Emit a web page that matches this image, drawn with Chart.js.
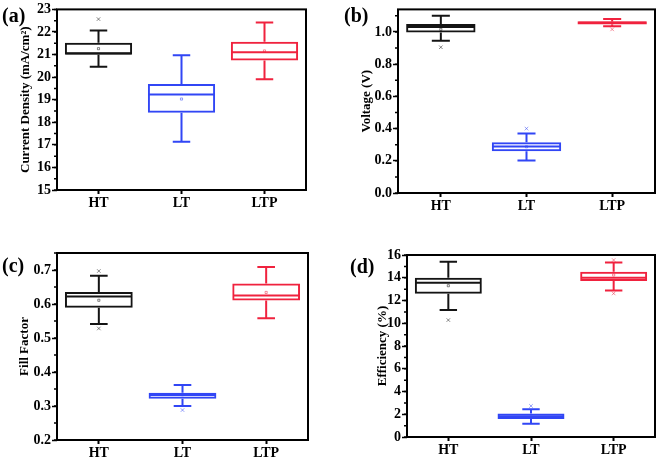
<!DOCTYPE html>
<html>
<head>
<meta charset="utf-8">
<script src="https://cdn.jsdelivr.net/npm/chart.js@4.4.0/dist/chart.umd.min.js"></script>
<style>
  body { margin: 0; background: #fff; width: 661px; height: 459px; position: relative; overflow: hidden; }
  .panel { position: absolute; }
  .tag { position: absolute; font: bold 20px 'Times New Roman', 'Liberation Serif', serif; color: #000; }
</style>
</head>
<body>
<div class="panel" style="left:0;top:0;width:330px;height:230px"><canvas id="chartA"></canvas></div>
<div class="panel" style="left:330px;top:0;width:331px;height:230px"><canvas id="chartB"></canvas></div>
<div class="panel" style="left:0;top:230px;width:330px;height:229px"><canvas id="chartC"></canvas></div>
<div class="panel" style="left:330px;top:230px;width:331px;height:229px"><canvas id="chartD"></canvas></div>
<div class="tag" style="left:2px;top:4px">(a)</div>
<div class="tag" style="left:344px;top:4px">(b)</div>
<div class="tag" style="left:2px;top:254px">(c)</div>
<div class="tag" style="left:350px;top:255px">(d)</div>
<script>
const categories = ["HT", "LT", "LTP"];

// (a) current density, mA/cm2
const jscLow = [20.46, 17.14, 19.91];
const jscQ1 = [20.99, 18.42, 20.74];
const jscMed = [21.06, 19.23, 21.1];
const jscQ3 = [21.52, 19.7, 21.57];
const jscHigh = [22.06, 20.97, 22.42];
const jscMean = [21.26, 19.03, 21.16];
const jscOutHigh = [22.57, null, null];
const jscOutLow = [null, null, null];

// (b) voltage, V
const vocLow = [0.945, 0.202, 1.036];
const vocQ1 = [0.996, 0.259, 1.046];
const vocMed = [1.03, 0.289, 1.057];
const vocQ3 = [1.05, 0.315, 1.067];
const vocHigh = [1.101, 0.37, 1.081];
const vocMean = [1.016, 0.287, 1.056];
const vocOutHigh = [null, 0.4, null];
const vocOutLow = [0.905, null, 1.016];

// (c) fill factor
const ffLow = [0.541, 0.3, 0.558];
const ffQ1 = [0.589, 0.321, 0.61];
const ffMed = [0.622, 0.332, 0.625];
const ffQ3 = [0.635, 0.339, 0.66];
const ffHigh = [0.683, 0.362, 0.709];
const ffMean = [0.611, 0.333, 0.634];
const ffOutHigh = [0.697, null, null];
const ffOutLow = [0.528, 0.288, null];

// (d) efficiency, %
const effLow = [11.16, 1.17, 12.89];
const effQ1 = [12.59, 1.59, 13.71];
const effMed = [13.56, 1.82, 14.0];
const effQ3 = [14.0, 2.06, 14.53];
const effHigh = [15.41, 2.44, 15.35];
const effMean = [13.3, 1.76, 14.24];
const effOutHigh = [null, 2.73, 15.56];
const effOutLow = [10.28, null, 12.62];

const serif = "'Times New Roman', 'Liberation Serif', serif";
const boxColors = ["#141414", "#3146f5", "#f0223e"];
const markColors = ["rgba(20,20,20,0.5)", "rgba(49,70,245,0.5)", "rgba(240,34,62,0.5)"];

// whiskers, medians, frame and minor ticks
const boxPlot = {
  id: "boxPlot",
  afterDatasetsDraw(chart, args, opts) {
    const { ctx, chartArea: a, scales: { y } } = chart;
    const s = opts.stats;
    const bars = chart.getDatasetMeta(0).data;
    ctx.save();
    ctx.lineWidth = 2;
    bars.forEach((bar, i) => {
      const cx = bar.x;
      const half = bar.width / 2;
      const cap = bar.width * 0.13;
      const yl = y.getPixelForValue(s.low[i]);
      const yh = y.getPixelForValue(s.high[i]);
      ctx.strokeStyle = boxColors[i];
      ctx.beginPath();
      ctx.moveTo(cx, y.getPixelForValue(s.q3[i]));
      ctx.lineTo(cx, yh);
      ctx.moveTo(cx - cap, yh);
      ctx.lineTo(cx + cap, yh);
      ctx.moveTo(cx, y.getPixelForValue(s.q1[i]));
      ctx.lineTo(cx, yl);
      ctx.moveTo(cx - cap, yl);
      ctx.lineTo(cx + cap, yl);
      const ym = y.getPixelForValue(s.med[i]);
      ctx.moveTo(cx - half + 1, ym);
      ctx.lineTo(cx + half - 1, ym);
      ctx.stroke();
    });

    ctx.strokeStyle = "#000";
    ctx.lineWidth = 2;
    ctx.strokeRect(a.left, a.top, a.right - a.left, a.bottom - a.top);

    ctx.lineWidth = 1.5;
    ctx.beginPath();
    const half = opts.step / 2;
    for (let k = 0; y.min + k * half <= y.max + 1e-9; k++) {
      const py = y.getPixelForValue(y.min + k * half);
      ctx.moveTo(a.left, py);
      ctx.lineTo(a.left - 3, py);
    }
    ctx.stroke();
    ctx.restore();
  }
};

function makeChart(id, o) {
  const stats = { low: o.low, q1: o.q1, med: o.med, q3: o.q3, high: o.high };
  return new Chart(document.getElementById(id), {
    type: "bar",
    data: {
      labels: categories,
      datasets: [
        {
          type: "bar",
          data: o.q1.map((v, i) => [v, o.q3[i]]),
          backgroundColor: "rgba(0,0,0,0)",
          borderColor: boxColors,
          borderWidth: 2,
          borderSkipped: false,
          categoryPercentage: 0.81,
          barPercentage: 1
        },
        {
          type: "line",
          data: o.mean,
          showLine: false,
          pointStyle: "rect",
          pointRadius: 1.5,
          pointBorderWidth: 1,
          pointBorderColor: markColors,
          pointBackgroundColor: "rgba(0,0,0,0)"
        },
        {
          type: "line",
          data: o.outHigh,
          showLine: false,
          pointStyle: "crossRot",
          pointRadius: 2.5,
          pointBorderWidth: 1,
          pointBorderColor: markColors
        },
        {
          type: "line",
          data: o.outLow,
          showLine: false,
          pointStyle: "crossRot",
          pointRadius: 2.5,
          pointBorderWidth: 1,
          pointBorderColor: markColors
        }
      ]
    },
    options: {
      responsive: true,
      maintainAspectRatio: false,
      animation: false,
      layout: { padding: o.padding },
      plugins: {
        legend: { display: false },
        tooltip: { enabled: false },
        boxPlot: { stats: stats, step: o.step }
      },
      scales: {
        x: {
          type: "category",
          offset: true,
          afterFit: (s) => { s.height = o.xHeight; },
          border: { display: false },
          grid: { offset: false, drawOnChartArea: false, drawTicks: true, tickLength: 4, tickWidth: 2, tickColor: "#000" },
          ticks: { color: "#000", padding: 1, font: { family: serif, size: 14, weight: "bold" } }
        },
        y: {
          min: o.min,
          max: o.max,
          afterFit: (s) => { s.width = o.yWidth; },
          border: { display: false },
          grid: { drawOnChartArea: false, drawTicks: true, tickLength: 5, tickWidth: 1.5, tickColor: "#000" },
          ticks: {
            stepSize: o.step,
            includeBounds: false,
            color: "#000",
            padding: 1,
            font: { family: serif, size: 14, weight: "bold" },
            callback: (v) => v.toFixed(o.digits)
          },
          title: {
            display: true,
            text: o.title,
            color: "#000",
            padding: { top: o.titlePad, bottom: 0 },
            font: { family: serif, size: 13, weight: "bold" }
          }
        }
      }
    },
    plugins: [boxPlot]
  });
}

makeChart("chartA", {
  low: jscLow, q1: jscQ1, med: jscMed, q3: jscQ3, high: jscHigh, mean: jscMean,
  outHigh: jscOutHigh, outLow: jscOutLow,
  min: 15, max: 23, step: 1, digits: 0,
  title: "Current Density (mA/cm\u00B2)",
  yWidth: 57, xHeight: 40, titlePad: 18, padding: { top: 6, right: 24, left: 0, bottom: 0 }
});

makeChart("chartB", {
  low: vocLow, q1: vocQ1, med: vocMed, q3: vocQ3, high: vocHigh, mean: vocMean,
  outHigh: vocOutHigh, outLow: vocOutLow,
  min: 0, max: 1.14, step: 0.2, digits: 1,
  title: "Voltage (V)",
  yWidth: 68, xHeight: 37, titlePad: 29, padding: { top: 5, right: 6, left: 0, bottom: 0 }
});

makeChart("chartC", {
  low: ffLow, q1: ffQ1, med: ffMed, q3: ffQ3, high: ffHigh, mean: ffMean,
  outHigh: ffOutHigh, outLow: ffOutLow,
  min: 0.2, max: 0.75, step: 0.1, digits: 1,
  title: "Fill Factor",
  yWidth: 57, xHeight: 19, titlePad: 17, padding: { top: 23, right: 22, left: 0, bottom: 0 }
});

makeChart("chartD", {
  low: effLow, q1: effQ1, med: effMed, q3: effQ3, high: effHigh, mean: effMean,
  outHigh: effOutHigh, outLow: effOutLow,
  min: 0, max: 16, step: 2, digits: 0,
  title: "Efficiency (%)",
  yWidth: 77, xHeight: 22, titlePad: 45, padding: { top: 25, right: 6, left: 0, bottom: 0 }
});
</script>
</body>
</html>
